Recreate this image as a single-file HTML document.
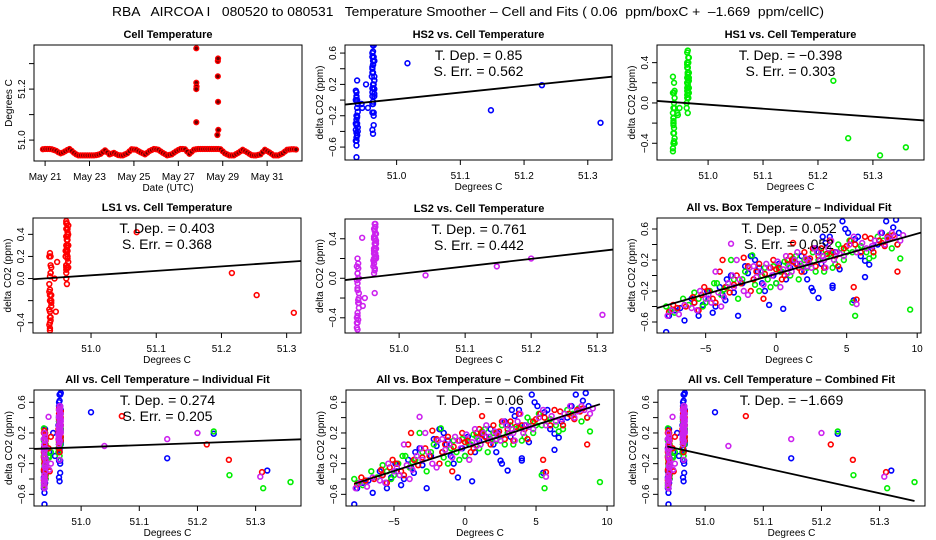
<!DOCTYPE html>
<html><head><meta charset="utf-8"><style>
html,body{margin:0;padding:0;background:#fff;}
svg{display:block;font-family:"Liberation Sans",sans-serif;}
</style></head><body>
<svg id="chart" width="936" height="540" viewBox="0 0 936 540">
<text x="468" y="16" text-anchor="middle" font-size="13" xml:space="preserve" style="white-space:pre" textLength="712" lengthAdjust="spacingAndGlyphs">RBA   AIRCOA I   080520 to 080531   Temperature Smoother – Cell and Fits ( 0.06  ppm/boxC +  –1.669  ppm/cellC)</text>
</svg>
<script>
// ---- Cell temperature time series (sampled every 0.1 day from May 20.9) ----
const tsStart = 20.9;
const tsStep = 0.1;
const tsTemps = [50.964,50.965,50.965,50.965,50.964,50.961,50.958,50.952,50.948,50.951,50.956,50.961,50.965,50.958,50.950,50.944,50.940,50.940,50.940,50.940,50.940,50.940,50.940,50.940,50.941,50.943,50.946,50.953,50.960,50.952,50.944,50.947,50.950,50.945,50.941,50.940,50.940,50.944,50.948,50.956,50.964,50.963,50.962,50.957,50.952,50.948,50.944,50.950,50.957,50.961,50.965,50.964,50.962,50.956,50.950,50.945,50.940,50.942,50.944,50.950,50.956,50.961,50.965,50.965,50.964,50.955,50.946,50.954,50.962,50.964,50.965,50.965,50.965,50.965,50.965,50.965,50.965,50.965,50.965,50.965,50.964,50.956,50.948,50.944,50.940,50.940,50.940,50.945,50.950,50.956,50.962,50.957,50.952,50.946,50.941,50.940,50.940,50.942,50.944,50.953,50.962,50.957,50.952,50.946,50.940,50.940,50.940,50.944,50.948,50.955,50.962,50.963,50.964,50.964,50.963];
const spikeDays = [27.81,27.81,27.82,27.81,27.81,28.78,28.79,28.78,28.79,28.76,28.8];
const spikeTemps = [51.36,51.225,51.21,51.2,51.07,51.31,51.32,51.25,51.15,51.02,51.04];

// ---- HS2 (blue) ----
const hs2Box = [-7.8,-7.6,-7.2,-6.5,-5.8,-5.5,-5.2,-4.8,-4.5,-4.3,-3.8,-3.5,-3.2,-2.7,-2.4,-2.0,-1.8,-1.5,-1.2,-1.0,-0.5,0.0,0.3,0.5,1.0,1.5,2.0,2.3,2.5,2.6,3.0,3.3,3.5,4.0,4.5,4.7,5.1,5.5,6.3,6.6,7.2,7.8,8.5,8.7,5.6,4.0,6.3,3.0,
 -6.8,-6.0,-5.6,-4.9,-4.0,-3.6,-3.0,-2.2,-1.6,-1.3,-0.8,-0.2,0.2,0.7,1.2,1.8,2.2,2.8,3.2,3.8,4.2,4.9,5.3,5.8,6.0,6.8,7.0,7.5,8.0,8.3];
const hs2Cell = [50.937,50.936,50.938,50.937,50.939,50.937,50.936,50.938,50.937,50.939,50.937,50.945,50.938,50.937,50.946,50.937,50.938,50.952,50.937,50.955,50.962,50.938,50.962,50.963,50.962,50.964,50.965,50.963,50.962,50.964,50.965,50.963,50.962,50.964,50.965,50.963,50.962,50.964,50.963,50.965,50.962,50.964,50.965,50.963,51.017,51.148,51.228,51.32,
 50.937,50.936,50.938,50.937,50.939,50.937,50.938,50.936,50.939,50.937,50.938,50.936,50.962,50.963,50.964,50.965,50.962,50.963,50.964,50.965,50.961,50.962,50.963,50.964,50.965,50.962,50.963,50.964,50.965,50.963];
const hs2Dco2 = [-0.73,-0.52,-0.45,-0.58,-0.35,-0.52,-0.38,-0.3,-0.48,-0.4,-0.25,-0.05,0.0,-0.52,-0.1,0.03,0.25,0.2,0.1,-0.1,-0.38,-0.1,0.05,-0.43,0.1,0.15,0.05,0.2,-0.16,-0.2,0.3,0.5,0.42,-0.16,0.08,0.7,0.55,-0.32,-0.02,0.14,0.4,0.7,0.72,0.55,0.47,-0.13,0.19,-0.29,
 -0.42,-0.3,-0.45,-0.2,-0.15,-0.32,-0.22,0.12,-0.05,0.05,-0.2,0.0,0.15,-0.05,0.2,0.25,-0.05,0.35,0.15,0.5,0.3,0.6,0.45,0.5,0.25,0.35,0.45,0.55,0.5,0.62];

// ---- HS1 (green) ----
const hs1Box = [-7.8,-7.5,-6.2,-5.5,-5.0,-4.7,-4.2,-3.9,-3.5,-3.0,-2.7,-2.2,-1.9,-1.5,-1.0,-0.6,-0.2,0.2,0.6,1.0,1.4,1.8,2.2,2.6,3.0,3.4,3.8,4.2,4.6,5.0,5.4,6.0,6.9,7.6,8.0,8.6,8.8,5.6,5.4,9.5,6.6,
 -7.2,-6.6,-5.8,-5.2,-4.4,-3.7,-3.2,-2.4,-1.7,-1.2,-0.8,-0.4,0.0,0.4,0.8,1.2,1.6,2.0,2.4,2.8,3.2,3.6,4.0,4.4,4.8,5.2,5.8,6.4,7.2,8.2];
const hs1Cell = [50.937,50.936,50.938,50.937,50.939,50.937,50.944,50.938,50.937,50.948,50.937,50.939,50.936,50.945,50.938,50.937,50.939,50.962,50.963,50.961,50.964,50.962,50.965,50.963,50.962,50.964,50.963,50.965,50.962,50.964,50.963,50.962,50.965,50.964,50.963,50.962,50.964,51.313,51.255,51.36,51.228,
 50.936,50.938,50.937,50.939,50.936,50.937,50.938,50.939,50.936,50.937,50.938,50.937,50.963,50.962,50.964,50.965,50.961,50.963,50.962,50.964,50.965,50.962,50.963,50.964,50.962,50.965,50.963,50.964,50.962,50.963];
const hs1Dco2 = [-0.4,-0.45,-0.38,-0.3,-0.35,-0.2,-0.1,-0.25,-0.15,-0.05,-0.3,0.05,0.1,-0.12,0.0,-0.05,0.12,0.08,0.18,0.0,0.25,0.12,0.1,0.3,0.2,0.05,0.28,0.15,0.35,0.3,0.3,0.38,0.25,0.45,0.52,0.4,0.22,-0.52,-0.35,-0.44,0.22,
 -0.48,-0.3,-0.22,-0.4,-0.1,-0.18,0.2,-0.05,0.26,-0.2,0.1,-0.15,-0.1,0.05,0.15,0.22,-0.05,0.2,0.15,0.05,0.3,0.25,0.1,0.4,0.2,0.45,0.35,0.3,0.5,0.35];

// ---- LS1 (red) ----
const ls1Box = [-7.6,-7.0,-5.8,-5.5,-5.3,-4.8,-4.5,-4.0,-3.6,-3.3,-2.8,-2.5,-2.0,-1.6,-1.2,-0.8,-0.4,0.0,0.4,0.8,1.2,1.6,2.0,2.4,2.8,3.2,3.6,4.0,4.4,5.0,5.3,6.0,6.7,7.5,7.9,8.3,8.6,5.5,5.7,8.6,1.2,
 -7.3,-6.4,-5.9,-5.1,-4.3,-3.8,-3.0,-2.3,-1.8,-1.4,-0.9,-0.2,0.2,0.6,1.0,1.4,1.8,2.2,2.6,3.0,3.4,3.8,4.2,4.8,5.6,6.3,6.9,7.3,7.7,8.1];
const ls1Cell = [50.937,50.936,50.938,50.937,50.939,50.937,50.946,50.938,50.937,50.939,50.944,50.937,50.938,50.936,50.948,50.937,50.939,50.962,50.963,50.961,50.964,50.962,50.965,50.963,50.962,50.964,50.963,50.965,50.962,50.964,50.963,50.962,50.965,50.964,50.963,50.962,50.964,51.254,51.311,51.216,51.07,
 50.938,50.937,50.936,50.939,50.937,50.938,50.936,50.937,50.939,50.938,50.937,50.936,50.964,50.962,50.963,50.965,50.962,50.964,50.963,50.961,50.965,50.962,50.964,50.963,50.965,50.962,50.963,50.964,50.962,50.965];
const ls1Dco2 = [-0.47,-0.42,-0.35,-0.45,-0.25,-0.2,-0.3,0.05,-0.15,-0.22,0.0,-0.1,0.12,-0.05,0.15,0.02,0.1,0.08,-0.05,0.2,0.18,0.1,0.3,0.22,0.12,0.35,0.28,0.3,0.12,0.38,0.45,0.3,0.48,0.42,0.5,0.52,0.4,-0.15,-0.31,0.05,0.42,
 -0.38,-0.4,-0.28,-0.15,-0.35,0.2,-0.12,0.23,-0.2,0.05,-0.3,0.2,0.1,0.0,0.25,0.15,0.05,0.2,0.35,0.25,0.1,0.45,0.25,0.35,0.4,0.5,0.3,0.45,0.38,0.48];

// ---- LS2 (purple) ----
const ls2Box = [-7.7,-6.9,-6.0,-5.6,-5.0,-4.6,-4.1,-3.7,-3.4,-3.0,-2.6,-2.3,-1.9,-1.4,-1.1,-0.7,-0.3,0.1,0.5,0.9,1.3,1.7,2.1,2.5,2.9,3.3,3.7,4.1,4.5,5.2,5.7,6.1,6.8,7.4,7.9,8.4,9.0,0.8,2.2,3.4,5.7,-3.2,
 -7.4,-6.5,-5.4,-4.8,-4.3,-3.9,-3.1,-2.8,-2.0,-1.6,-0.9,-0.5,0.3,0.7,1.1,1.5,1.9,2.3,2.7,3.1,3.5,3.9,4.3,4.8,5.5,6.4,7.0,7.7,8.2,8.8];
const ls2Cell = [50.937,50.936,50.938,50.937,50.939,50.937,50.938,50.945,50.937,50.939,50.937,50.948,50.938,50.936,50.937,50.938,50.939,50.962,50.963,50.961,50.964,50.962,50.965,50.963,50.962,50.964,50.963,50.965,50.962,50.964,50.963,50.962,50.965,50.964,50.963,50.962,50.964,51.04,51.148,51.2,51.308,50.944,
 50.936,50.937,50.939,50.938,50.937,50.936,50.938,50.937,50.939,50.936,50.937,50.938,50.963,50.964,50.962,50.965,50.963,50.961,50.964,50.962,50.963,50.965,50.964,50.962,50.963,50.965,50.964,50.962,50.963,50.964];
const ls2Dco2 = [-0.52,-0.5,-0.42,-0.45,-0.3,-0.35,-0.22,-0.28,-0.1,-0.15,-0.05,-0.2,0.1,-0.02,0.05,0.15,0.0,0.18,0.08,0.12,0.2,0.15,0.22,0.1,0.3,0.25,0.35,0.2,0.28,0.4,0.3,0.42,0.38,0.55,0.48,0.5,0.52,0.03,0.12,0.2,-0.37,0.41,
 -0.45,-0.38,-0.2,-0.25,0.05,-0.4,0.0,0.2,-0.25,0.12,-0.12,0.1,-0.15,0.25,0.05,0.3,0.1,0.18,0.35,0.2,0.1,0.45,0.3,0.25,0.5,0.35,0.45,0.4,0.55,0.45];

// ---- fit slopes (T. Dep.) and anchors ----
const fitSlopes = [0.85,-0.398,0.403,0.761,0.052,0.274,0.06,-1.669];
const fitAnchorX = [50.95,50.95,50.95,50.95,0,50.95,0,50.95];
const fitAnchorY = [-0.031,0.003,0.009,0.006,0.02,0.0,0.005,-0.002];
const sErrs = [0.562,0.303,0.368,0.442,0.052,0.205];

const cellTicks = [51.0,51.1,51.2,51.3];
const cellTickLabels = ["51.0","51.1","51.2","51.3"];
const boxTicks = [-5,0,5,10];
const boxTickLabels = ["\u22125","0","5","10"];
const dateTicks = [21,23,25,27,29,31];
const dateTickLabels = ["May 21","May 23","May 25","May 27","May 29","May 31"];

const svg = document.getElementById('chart');
const NS = 'http://www.w3.org/2000/svg';
function mk(tag, attrs, parent){const e=document.createElementNS(NS,tag);for(const k in attrs)e.setAttribute(k,attrs[k]);(parent||svg).appendChild(e);return e;}
function fmt(v){return (v<0?'\u2212':'')+Math.abs(v).toFixed(1);}

const BLUE='#0000ff',GREEN='#00ee00',RED='#ff0000',PURP='#cc22ee';
const sHS2={n:'hs2',x:hs2Cell,bx:hs2Box,y:hs2Dco2,c:BLUE};
const sHS1={n:'hs1',x:hs1Cell,bx:hs1Box,y:hs1Dco2,c:GREEN};
const sLS1={n:'ls1',x:ls1Cell,bx:ls1Box,y:ls1Dco2,c:RED};
const sLS2={n:'ls2',x:ls2Cell,bx:ls2Box,y:ls2Dco2,c:PURP};
const allS=[sHS2,sHS1,sLS1,sLS2];

const panels = [
 {id:'cell-temperature',title:'Cell Temperature',L:34,T:45,W:268,H:116,x0:20.5,x1:32.57,y0:50.918,y1:51.373,
  xt:dateTicks,xl:dateTickLabels,yt:[51.0,51.1,51.2,51.3],yl:["51.0","","51.2",""],xtitle:'Date (UTC)',ytitle:'Degrees C',ts:true},
 {id:'hs2-vs-cell',title:'HS2 vs. Cell Temperature',L:345,T:45,W:267,H:115,x0:50.919,x1:51.338,y0:-0.765,y1:0.703,
  xt:cellTicks,xl:cellTickLabels,yt:[-0.6,-0.4,-0.2,0,0.2,0.4,0.6],yl:[1,0,1,0,1,0,1],series:[sHS2],useBox:false,fit:0,err:0},
 {id:'hs1-vs-cell',title:'HS1 vs. Cell Temperature',L:657,T:45,W:267,H:115,x0:50.907,x1:51.393,y0:-0.566,y1:0.575,
  xt:cellTicks,xl:cellTickLabels,yt:[-0.4,-0.2,0,0.2,0.4],yl:[1,0,1,0,1],series:[sHS1],useBox:false,fit:1,err:1},
 {id:'ls1-vs-cell',title:'LS1 vs. Cell Temperature',L:33,T:218,W:268,H:115,x0:50.911,x1:51.322,y0:-0.493,y1:0.548,
  xt:cellTicks,xl:cellTickLabels,yt:[-0.4,-0.2,0,0.2,0.4],yl:[1,0,1,1,1],series:[sLS1],useBox:false,fit:2,err:2},
 {id:'ls2-vs-cell',title:'LS2 vs. Cell Temperature',L:345,T:219,W:268,H:114,x0:50.918,x1:51.324,y0:-0.554,y1:0.6,
  xt:cellTicks,xl:cellTickLabels,yt:[-0.4,-0.2,0,0.2,0.4],yl:[1,0,1,0,1],series:[sLS2],useBox:false,fit:3,err:3},
 {id:'all-vs-box-individual',title:'All vs. Box Temperature \u2013 Individual Fit',L:657,T:218,W:264,H:115,x0:-8.45,x1:10.27,y0:-0.742,y1:0.742,
  xt:boxTicks,xl:boxTickLabels,yt:[-0.6,-0.4,-0.2,0,0.2,0.4,0.6],yl:[1,0,1,0,1,0,1],series:allS,useBox:true,fit:4,err:4},
 {id:'all-vs-cell-individual',title:'All vs. Cell Temperature \u2013 Individual Fit',L:34,T:390,W:267,H:116,x0:50.919,x1:51.378,y0:-0.752,y1:0.76,
  xt:cellTicks,xl:cellTickLabels,yt:[-0.6,-0.4,-0.2,0,0.2,0.4,0.6],yl:[1,0,1,0,1,0,1],series:allS,useBox:false,fit:5,err:5},
 {id:'all-vs-box-combined',title:'All vs. Box Temperature \u2013 Combined Fit',L:346,T:390,W:268,H:116,x0:-8.38,x1:10.49,y0:-0.752,y1:0.76,
  xt:boxTicks,xl:boxTickLabels,yt:[-0.6,-0.4,-0.2,0,0.2,0.4,0.6],yl:[1,0,1,0,1,0,1],series:allS,useBox:true,fit:6,err:null,fitFrom:-7.8,fitTo:9.5},
 {id:'all-vs-cell-combined',title:'All vs. Cell Temperature \u2013 Combined Fit',L:658,T:390,W:267,H:116,x0:50.919,x1:51.378,y0:-0.752,y1:0.76,
  xt:cellTicks,xl:cellTickLabels,yt:[-0.6,-0.4,-0.2,0,0.2,0.4,0.6],yl:[1,0,1,0,1,0,1],series:allS,useBox:false,fit:7,err:null,fitFrom:50.935,fitTo:51.36}
];

panels.forEach(p=>{
  const g=mk('g',{});
  
  
  const sx=v=>p.L+(v-p.x0)/(p.x1-p.x0)*p.W;
  const sy=v=>p.T+p.H-(v-p.y0)/(p.y1-p.y0)*p.H;
  const B=p.T+p.H;
  const clip='clip-'+p.id;
  const cp=mk('clipPath',{id:clip},g);
  mk('rect',{x:p.L,y:p.T,width:p.W,height:p.H},cp);

  const t=mk('text',{x:p.L+p.W/2,y:p.T-7,'text-anchor':'middle','font-size':'11','font-weight':'bold'},g);
  t.textContent=p.title;
  
  

  const marks=mk('g',{'clip-path':'url(#'+clip+')'},g);
  
  
  if(p.ts){
    tsTemps.forEach((v,i)=>{
      const c=mk('circle',{cx:sx(tsStart+i*tsStep),cy:sy(v),r:2.4,fill:'#600',stroke:RED,'stroke-width':1.4},marks);
      
      
    });
    spikeDays.forEach((d,i)=>{
      const c=mk('circle',{cx:sx(d),cy:sy(spikeTemps[i]),r:2.4,fill:'#600',stroke:RED,'stroke-width':1.4},marks);
      
      
    });
  } else {
    p.series.forEach(s=>{
      const xs=p.useBox?s.bx:s.x;
      const n=Math.min(xs.length,s.y.length);
      for(let i=0;i<n;i++){
        const c=mk('circle',{cx:sx(xs[i]),cy:sy(s.y[i]),r:2.4,fill:'none',stroke:s.c,'stroke-width':1.6},marks);
        
        
      }
    });
    const k=p.fit, m=fitSlopes[k], ax=fitAnchorX[k], ay=fitAnchorY[k];
    const xa=p.fitFrom!==undefined?p.fitFrom:p.x0, xb=p.fitTo!==undefined?p.fitTo:p.x1;
    const ln=mk('line',{x1:sx(xa),y1:sy(ay+m*(xa-ax)),x2:sx(xb),y2:sy(ay+m*(xb-ax)),stroke:'#000','stroke-width':1.8},marks);
    
    
    const tx=mk('text',{x:p.L+p.W/2,y:p.T+15,'text-anchor':'middle','font-size':'14'},g);
    tx.textContent='T. Dep. =  '+String(m).replace('-','\u2212');
    
    
    if(p.err!==null){
      const te=mk('text',{x:p.L+p.W/2,y:p.T+31,'text-anchor':'middle','font-size':'14'},g);
      te.textContent='S. Err. =  '+sErrs[p.err];
      
      
    }
  }
  const fr=mk('rect',{x:p.L,y:p.T,width:p.W,height:p.H,fill:'none',stroke:'#000','stroke-width':1},g);
  
  

  p.xt.forEach((v,i)=>{
    const X=sx(v);
    if(X<p.L-1||X>p.L+p.W+1) return;
    const tk=mk('line',{x1:X,y1:B,x2:X,y2:B+5,stroke:'#000'},g);
    
    
    const tl=mk('text',{x:X,y:B+19,'text-anchor':'middle','font-size':'10'},g);
    tl.textContent=p.xl[i];
    
    
  });
  p.yt.forEach((v,i)=>{
    const Y=sy(v);
    const tk=mk('line',{x1:p.L-5,y1:Y,x2:p.L,y2:Y,stroke:'#000'},g);
    
    
    const lab=p.ts?p.yl[i]:(p.yl[i]?fmt(v):'');
    if(lab){
      const tl=mk('text',{x:0,y:0,'text-anchor':'middle','font-size':'10',transform:'translate('+(p.L-9)+','+Y+') rotate(-90)'},g);
      tl.textContent=lab;
      
      
    }
  });
  const xt=mk('text',{x:p.L+p.W/2,y:B+30,'text-anchor':'middle','font-size':'10'},g);
  xt.textContent=p.xtitle||'Degrees C';
  
  
  const yt=mk('text',{x:0,y:0,'text-anchor':'middle','font-size':'10',transform:'translate('+(p.L-22)+','+(p.T+p.H/2)+') rotate(-90)'},g);
  yt.textContent=p.ytitle||'delta CO2 (ppm)';
  
  
});
</script>
</body></html>
